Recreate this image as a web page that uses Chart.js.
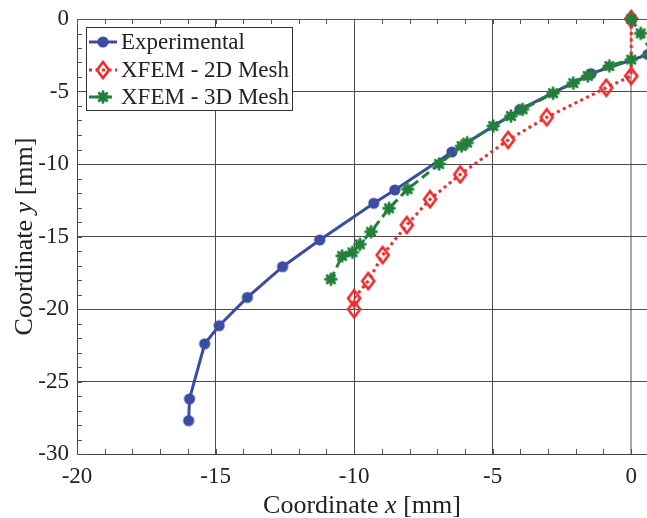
<!DOCTYPE html>
<html>
<head>
<meta charset="utf-8">
<script src="https://cdn.jsdelivr.net/npm/chart.js@4/dist/chart.umd.min.js"></script>
<style>
  html, body { margin: 0; padding: 0; background: #fff; }
  #chart-container { width: 647px; height: 518px; }
</style>
</head>
<body>
<div id="chart-container"><canvas id="chart" width="647" height="518"></canvas></div>
<script>
// Crack path coordinates [mm]
const expX = [0.6, -1.45, -4.02, -6.47, -8.53, -9.29, -11.24, -12.58, -13.85, -14.87, -15.39, -15.94, -15.97];
const expY = [-2.45, -3.77, -6.25, -9.17, -11.79, -12.71, -15.24, -17.08, -19.2, -21.15, -22.4, -26.2, -27.7];

const mesh2dX = [0, 0, -0.9, -3.05, -4.44, -6.17, -7.26, -8.1, -8.97, -9.49, -10.0, -10.0];
const mesh2dY = [0, -3.93, -4.74, -6.78, -8.34, -10.72, -12.43, -14.21, -16.28, -18.07, -19.26, -20.02];

const mesh3dX = [0, 0.34, 0.75, 0, -0.79, -1.57, -2.09, -2.82, -3.92, -4.34, -4.98, -5.92, -6.12, -6.93, -8.07, -8.74, -9.39, -9.79, -10.06, -10.43, -10.84];
const mesh3dY = [0, -0.99, -2.3, -2.8, -3.24, -3.93, -4.42, -5.12, -6.23, -6.69, -7.38, -8.53, -8.76, -10.0, -11.74, -13.06, -14.67, -15.54, -16.09, -16.34, -17.95];

const seriesLabels = ['Experimental', 'XFEM - 2D Mesh', 'XFEM - 3D Mesh'];
const xTickLabels = [-20, -15, -10, -5, 0];
const yTickLabels = [-30, -25, -20, -15, -10, -5, 0];

const FONT = '"Liberation Serif", "Times New Roman", serif';
const BLUE = '#3a4da0';
const RED = '#f02a2a';
const GREEN = '#22803a';

function toPoints(xs, ys) {
  return xs.map((x, i) => ({x: x, y: ys[i]}));
}

// Small canvases used as marker images (also reused by the legend)
function makeMarker(kind) {
  const c = document.createElement('canvas');
  c.width = 18;
  c.height = 20;
  const g = c.getContext('2d');
  const cx = c.width / 2, cy = c.height / 2;
  if (kind === 'circle') {
    g.fillStyle = BLUE;
    g.beginPath();
    g.arc(cx, cy, 5.6, 0, Math.PI * 2);
    g.fill();
  } else if (kind === 'diamond') {
    g.strokeStyle = RED;
    g.lineWidth = 2.6;
    g.beginPath();
    g.moveTo(cx, cy - 8);
    g.lineTo(cx + 6, cy);
    g.lineTo(cx, cy + 8);
    g.lineTo(cx - 6, cy);
    g.closePath();
    g.stroke();
  } else {
    g.strokeStyle = GREEN;
    g.fillStyle = GREEN;
    g.lineWidth = 2.8;
    g.lineCap = 'round';
    for (let k = 0; k < 4; k++) {
      const a = k * Math.PI / 4;
      g.beginPath();
      g.moveTo(cx - 5.4 * Math.cos(a), cy - 5.4 * Math.sin(a));
      g.lineTo(cx + 5.4 * Math.cos(a), cy + 5.4 * Math.sin(a));
      g.stroke();
    }
    g.beginPath();
    g.arc(cx, cy, 4.3, 0, Math.PI * 2);
    g.fill();
  }
  return c;
}

// Inward minor ticks and the top frame line, like the original axes box
const framePlugin = {
  id: 'frame',
  beforeDatasetsDraw(chart) {
    const {ctx, chartArea: a, scales} = chart;
    ctx.save();
    ctx.strokeStyle = '#555';
    ctx.lineWidth = 1;
    ctx.beginPath();
    ctx.moveTo(a.left, a.top + 0.5);
    ctx.lineTo(a.right, a.top + 0.5);
    scales.x.ticks.forEach(t => {
      const px = Math.round(scales.x.getPixelForValue(t.value)) + 0.5;
      ctx.moveTo(px, a.bottom);
      ctx.lineTo(px, a.bottom - 5);
      ctx.moveTo(px, a.top);
      ctx.lineTo(px, a.top + 5);
    });
    scales.y.ticks.forEach(t => {
      const py = Math.round(scales.y.getPixelForValue(t.value)) + 0.5;
      ctx.moveTo(a.left, py);
      ctx.lineTo(a.left + 5, py);
    });
    ctx.stroke();
    ctx.restore();
  }
};

const legendPlugin = {
  id: 'boxLegend',
  afterDatasetsDraw(chart) {
    const ctx = chart.ctx;
    const box = {x: 86.5, y: 27.5, w: 206, h: 83};
    ctx.save();
    ctx.fillStyle = '#fff';
    ctx.fillRect(box.x, box.y, box.w, box.h);
    ctx.strokeStyle = '#333';
    ctx.lineWidth = 1;
    ctx.strokeRect(box.x, box.y, box.w, box.h);
    const rows = [42, 70, 97];
    chart.data.datasets.forEach((ds, i) => {
      const y = rows[i];
      ctx.strokeStyle = ds.borderColor;
      ctx.lineWidth = ds.borderWidth;
      ctx.setLineDash(ds.borderDash || []);
      ctx.beginPath();
      ctx.moveTo(89, y);
      ctx.lineTo(117, y);
      ctx.stroke();
      ctx.setLineDash([]);
      const m = ds.pointStyle;
      ctx.drawImage(m, 103 - m.width / 2, y - m.height / 2);
      ctx.fillStyle = '#222';
      ctx.font = '23px ' + FONT;
      ctx.textBaseline = 'middle';
      ctx.textAlign = 'left';
      ctx.fillText(ds.label, 121, y + 1);
    });
    ctx.restore();
  }
};

// Axis titles with an italic variable name
function drawParts(ctx, parts, cx, baseY) {
  const fonts = parts.map(p => (p.italic ? 'italic ' : '') + '26px ' + FONT);
  const widths = parts.map((p, i) => { ctx.font = fonts[i]; return ctx.measureText(p.text).width; });
  let x = cx - widths.reduce((s, w) => s + w, 0) / 2;
  parts.forEach((p, i) => {
    ctx.font = fonts[i];
    ctx.fillText(p.text, x, baseY);
    x += widths[i];
  });
}

const titlePlugin = {
  id: 'axisTitles',
  afterDraw(chart) {
    const {ctx, chartArea: a} = chart;
    ctx.save();
    ctx.fillStyle = '#222';
    ctx.textBaseline = 'alphabetic';
    ctx.textAlign = 'left';
    drawParts(ctx, [{text: 'Coordinate '}, {text: 'x', italic: true}, {text: ' [mm]'}], (a.left + a.right) / 2, 513);
    ctx.translate(32, (a.top + a.bottom) / 2);
    ctx.rotate(-Math.PI / 2);
    drawParts(ctx, [{text: 'Coordinate '}, {text: 'y', italic: true}, {text: ' [mm]'}], 0, 0);
    ctx.restore();
  }
};

function gridColor(labels) {
  return c => labels.includes(c.tick.value) ? '#4a4a4a' : 'rgba(0,0,0,0)';
}

new Chart(document.getElementById('chart'), {
  type: 'line',
  data: {
    datasets: [
      {
        label: seriesLabels[0],
        data: toPoints(expX, expY),
        borderColor: BLUE,
        borderWidth: 3,
        pointStyle: makeMarker('circle'),
        pointRadius: 5,
        clip: 12,
        order: 3
      },
      {
        label: seriesLabels[1],
        data: toPoints(mesh2dX, mesh2dY),
        borderColor: RED,
        borderWidth: 3,
        borderDash: [3, 3.5],
        pointStyle: makeMarker('diamond'),
        pointRadius: 7,
        clip: 12,
        order: 2
      },
      {
        label: seriesLabels[2],
        data: toPoints(mesh3dX, mesh3dY),
        borderColor: GREEN,
        borderWidth: 3,
        borderDash: [9, 5],
        pointStyle: makeMarker('star'),
        pointRadius: 6,
        clip: 12,
        order: 1
      }
    ]
  },
  options: {
    responsive: false,
    animation: false,
    // no auto padding: the plot runs right up to the page edge like the original
    layout: {autoPadding: false, padding: {top: 19, right: 0, left: 0, bottom: 0}},
    plugins: {
      legend: {display: false},
      tooltip: {enabled: false}
    },
    elements: {line: {tension: 0, fill: false}},
    scales: {
      x: {
        type: 'linear',
        min: -20,
        max: 0.57,
        border: {display: true, color: '#444', width: 1},
        grid: {
          drawTicks: false,
          color: c => c.tick.value === 0 ? '#a8a8a8' : gridColor(xTickLabels)(c),
          lineWidth: c => c.tick.value === 0 ? 2 : 1
        },
        ticks: {
          stepSize: 1,
          includeBounds: false,
          autoSkip: false,
          maxRotation: 0,
          padding: 9,
          color: '#222',
          font: {family: FONT, size: 23},
          callback: v => xTickLabels.includes(v) ? String(v) : ''
        },
        afterFit: s => { s.height = 64; s.paddingLeft = 0; s.paddingRight = 0; }
      },
      y: {
        type: 'linear',
        min: -30,
        max: 0,
        border: {display: true, color: '#444', width: 1},
        grid: {drawTicks: false, color: gridColor(yTickLabels)},
        ticks: {
          stepSize: 1,
          autoSkip: false,
          padding: 8,
          color: '#222',
          font: {family: FONT, size: 23},
          callback: v => yTickLabels.includes(v) ? String(v) : ''
        },
        afterFit: s => { s.width = 77; s.paddingTop = 0; s.paddingBottom = 0; }
      }
    }
  },
  plugins: [framePlugin, legendPlugin, titlePlugin]
});
</script>
</body>
</html>
